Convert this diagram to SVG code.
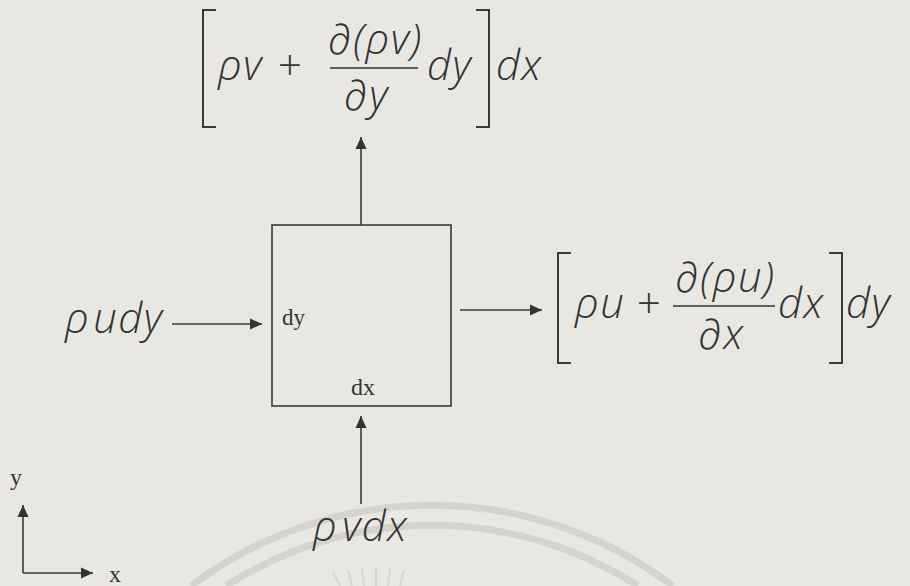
<svg xmlns="http://www.w3.org/2000/svg" width="910" height="586" viewBox="0 0 910 586">
<style>
.m{font-family:"Open Sans","Liberation Sans",sans-serif;font-style:italic;font-weight:350;font-size:42px;letter-spacing:1.5px;fill:#333}
.s{font-family:"Liberation Serif","DejaVu Serif",serif;fill:#333}
.ln{stroke:#3a3a3a;stroke-width:1.6;fill:none}
.br{stroke:#3a3a3a;stroke-width:2;fill:none}
.fr{stroke:#333;stroke-width:1.6}
.wm{stroke:#d5d3ce;stroke-width:7;fill:none}
</style>
<defs>
<marker id="ah" markerUnits="userSpaceOnUse" markerWidth="14" markerHeight="14" viewBox="0 0 14 14" refX="13" refY="7" orient="auto">
<path d="M1,1.5 L13,7 L1,12.5 Z" fill="#333"/>
</marker>
</defs>
<rect width="910" height="586" fill="#e9e7e2"/>
<g id="watermark">
<path class="wm" d="M 191 586 A 400 400 0 0 1 673 586"/>
<path class="wm" d="M 226 586 A 380 380 0 0 1 638 586"/>
<g stroke="#d8d6d1" stroke-width="2">
<line x1="340" y1="586" x2="333" y2="572"/><line x1="352" y1="586" x2="348" y2="570"/><line x1="364" y1="586" x2="362" y2="568"/><line x1="376" y1="586" x2="376" y2="567"/><line x1="388" y1="586" x2="390" y2="568"/><line x1="400" y1="586" x2="404" y2="570"/>
</g>
</g>
<g id="connectors">
<line class="ln" x1="361" y1="225" x2="361" y2="137" marker-end="url(#ah)"/>
<line class="ln" x1="361" y1="504" x2="361" y2="416" marker-end="url(#ah)"/>
<line class="ln" x1="172" y1="324" x2="262" y2="324" marker-end="url(#ah)"/>
<line class="ln" x1="460" y1="310" x2="542" y2="310" marker-end="url(#ah)"/>
<line class="ln" x1="23" y1="573" x2="23" y2="505" marker-end="url(#ah)"/>
<line class="ln" x1="23" y1="573" x2="93" y2="573" marker-end="url(#ah)"/>
</g>
<g id="element">
<rect x="272" y="225" width="179" height="181" class="ln" stroke-width="1.8"/>
<text class="s" x="282" y="325" font-size="23">dy</text>
<text class="s" x="351" y="395" font-size="24">dx</text>
</g>
<g id="top-flux">
<path class="br" d="M216 10 H203 V127 H216"/>
<path class="br" d="M476 10 H489 V127 H476"/>
<text class="m" x="218" y="80">ρv</text>
<text class="m" x="277" y="80">+</text>
<text class="m" x="375" y="54" text-anchor="middle">∂(ρv)</text>
<line class="fr" x1="330" y1="68" x2="418" y2="68"/>
<text class="m" x="366" y="110" text-anchor="middle">∂y</text>
<text class="m" x="427" y="80">dy</text>
<text class="m" x="496" y="80">dx</text>
</g>
<g id="right-flux">
<path class="br" d="M571 253 H558 V363 H571"/>
<path class="br" d="M829 253 H842 V363 H829"/>
<text class="m" x="575" y="318">ρu</text>
<text class="m" x="636" y="318">+</text>
<text class="m" x="725" y="292" text-anchor="middle">∂(ρu)</text>
<line class="fr" x1="673" y1="306" x2="775" y2="306"/>
<text class="m" x="721" y="349" text-anchor="middle">∂x</text>
<text class="m" x="778" y="318">dx</text>
<text class="m" x="846" y="318">dy</text>
</g>
<g id="left-flux">
<text class="m" x="65" y="333">ρ<tspan dx="3">udy</tspan></text>
</g>
<g id="bottom-flux">
<text class="m" x="313" y="541">ρ<tspan dx="4">vdx</tspan></text>
</g>
<g id="axes">
<text class="s" x="10" y="485" font-size="24">y</text>
<text class="s" x="109" y="582" font-size="24">x</text>
</g>
</svg>
